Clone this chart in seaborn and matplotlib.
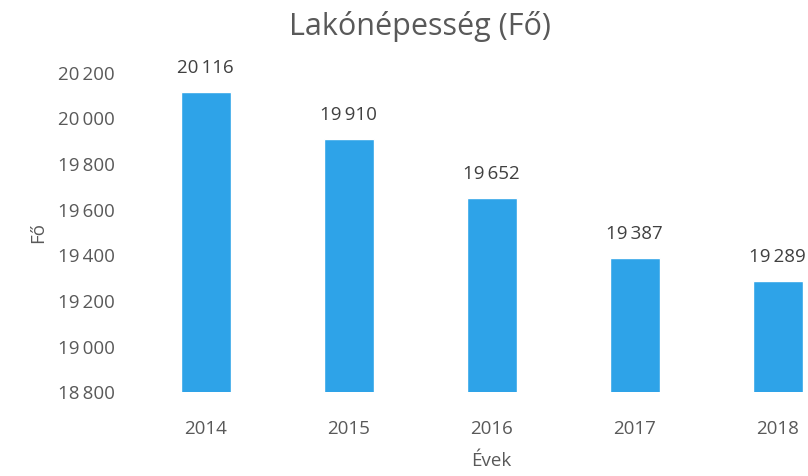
import matplotlib
matplotlib.use("Agg")
import matplotlib.pyplot as plt
import matplotlib.ticker as mticker
import pandas as pd
import seaborn as sns

years = ["2014", "2015", "2016", "2017", "2018"]
population = [20116, 19910, 19652, 19387, 19289]
y_ticks = [18800, 19000, 19200, 19400, 19600, 19800, 20000, 20200]

title = "Lakónépesség (Fő)"
x_label = "Évek"
y_label = "Fő"


def fmt(v):
    return f"{int(v):,}".replace(",", "\u2009")


def main():
    df = pd.DataFrame({"year": years, "pop": population})

    sns.set_style("white")
    plt.rcParams["font.family"] = ["Open Sans", "DejaVu Sans"]

    fig = plt.figure(figsize=(8.08, 4.76), dpi=100)
    ax = fig.add_axes([0.166, 0.176, 0.885, 0.671])
    sns.barplot(data=df, x="year", y="pop", color="#2EA3E8", saturation=1,
                width=0.35, ax=ax)

    ax.set_ylim(18800, 20200)
    ax.set_yticks(y_ticks)
    ax.yaxis.set_major_formatter(mticker.FuncFormatter(lambda v, p: fmt(v)))
    ax.tick_params(axis="both", length=0, labelsize=13.5, labelcolor="#595959")
    ax.tick_params(axis="x", pad=20)
    ax.tick_params(axis="y", pad=14)

    for i, v in enumerate(population):
        ax.text(i, v + 65, fmt(v), ha="center", va="bottom", fontsize=13.5,
                color="#404040")

    ax.set_xlabel(x_label, fontsize=13.5, color="#595959", labelpad=10)
    ax.set_ylabel(y_label, fontsize=13.5, color="#595959", labelpad=8)
    fig.text(0.52, 0.945, title, ha="center", va="center", fontsize=22,
             color="#595959")

    sns.despine(left=True, bottom=True)
    fig.savefig("out.png", dpi=100)


if __name__ == "__main__":
    main()
